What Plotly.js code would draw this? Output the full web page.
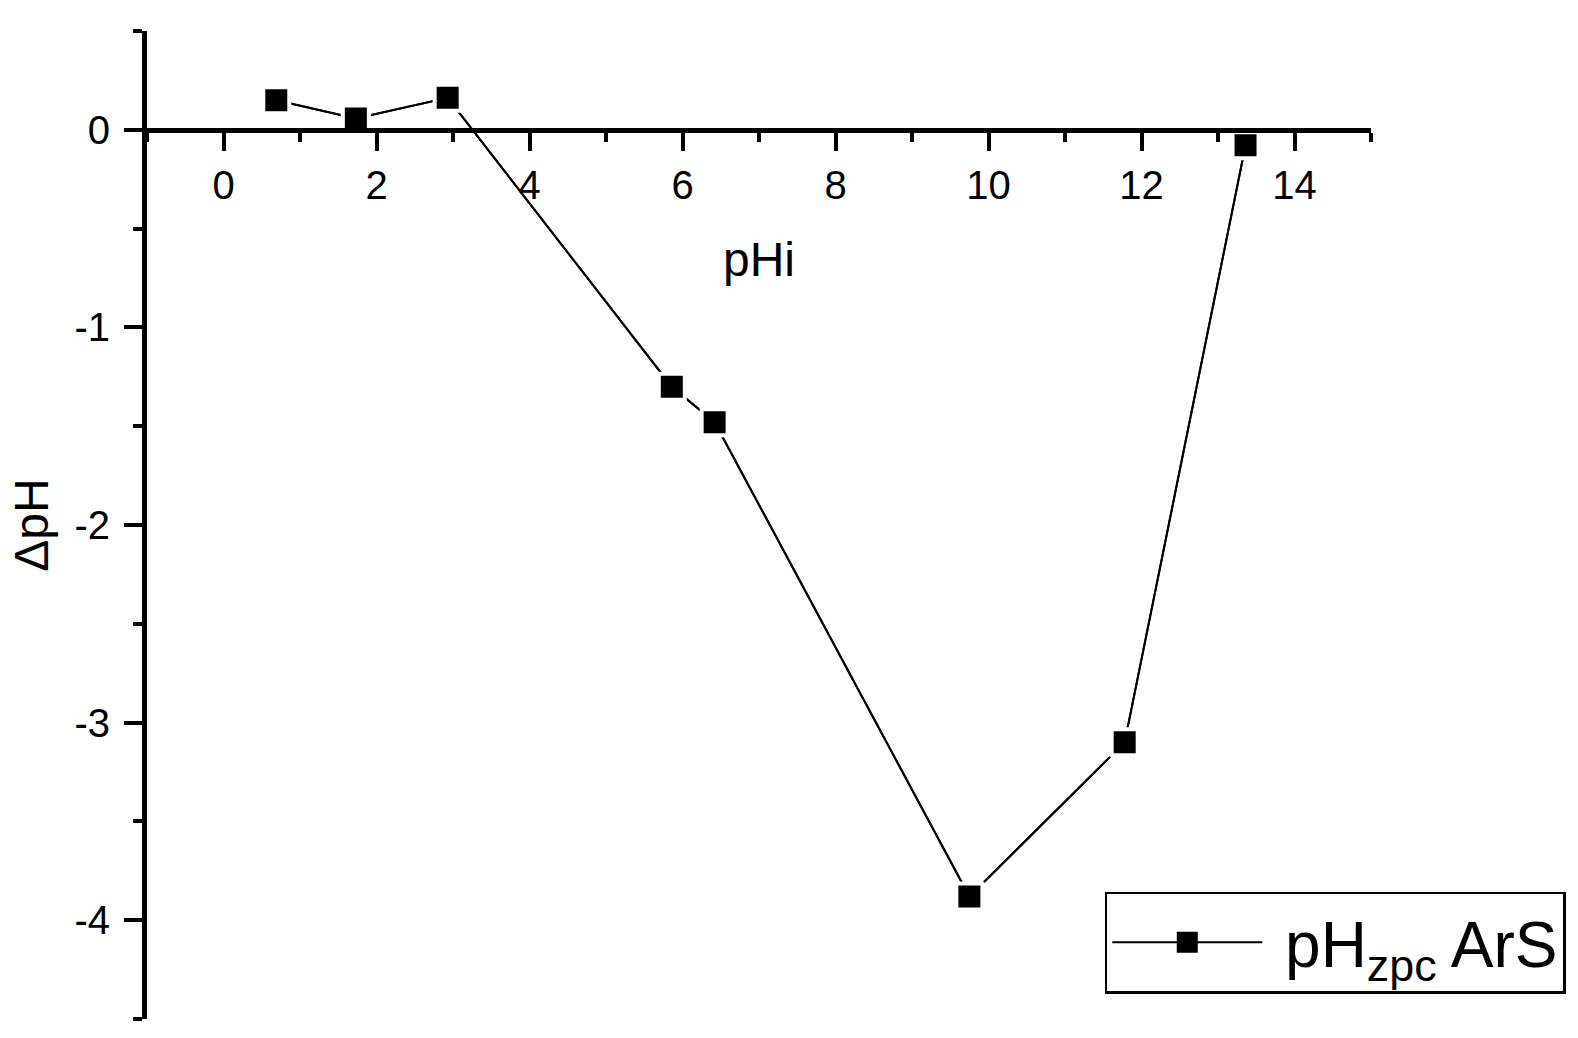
<!DOCTYPE html>
<html>
<head>
<meta charset="utf-8">
<script src="https://cdn.plot.ly/plotly-3.0.1.min.js"></script>
<style>
  html, body { margin: 0; padding: 0; background: #fff; }
  #chart { width: 1578px; height: 1038px; }
</style>
</head>
<body>
<div id="chart"></div>
<script>
// initial pH vs delta pH (pH drift method)
const phInitial = [0.69, 1.73, 2.93, 5.86, 6.42, 9.75, 11.78, 13.36];
const deltaPh = [0.15, 0.057, 0.162, -1.30, -1.48, -3.88, -3.10, -0.078];
const xTicks = [0, 2, 4, 6, 8, 10, 12, 14];
const yTicks = [-4, -3, -2, -1, 0];
const seriesName = "\u00A0pH<sub>zpc</sub> ArS";

const font = "Liberation Sans, Arial, sans-serif";

// legend entry + base layer (legend caps marker size, so the black outline pads it out)
const base = {
  type: "scatter",
  mode: "lines+markers",
  name: seriesName,
  x: phInitial,
  y: deltaPh,
  line: { color: "#000", width: 2 },
  marker: { symbol: "square", size: 17, color: "#000", line: { color: "#000", width: 5 } },
  cliponaxis: false,
};

// drawn on top: white ring leaves the small gap between line and marker
const gapped = {
  type: "scatter",
  mode: "lines+markers",
  name: seriesName,
  showlegend: false,
  x: phInitial,
  y: deltaPh,
  line: { color: "#000", width: 2 },
  marker: { symbol: "square", size: 26, color: "#000", line: { color: "#fff", width: 4 } },
  cliponaxis: false,
};

const layout = {
  width: 1578,
  height: 1038,
  paper_bgcolor: "#fff",
  plot_bgcolor: "#fff",
  margin: { l: 147, r: 205, t: 31, b: 19, pad: 0 },
  font: { family: font, color: "#000" },
  showlegend: true,
  legend: {
    x: 0.7825,
    y: 0.129,
    xanchor: "left",
    yanchor: "top",
    bgcolor: "#fff",
    bordercolor: "#000",
    borderwidth: 2.5,
    itemwidth: 150,
    font: { family: font, size: 64, color: "#000" },
  },
  xaxis: {
    range: [-1, 15],
    anchor: "free",
    position: 0.9, // x axis crosses at dpH = 0
    layer: "above traces",
    showline: true,
    linecolor: "#000",
    linewidth: 5,
    showgrid: false,
    zeroline: false,
    tickmode: "array",
    tickvals: xTicks,
    ticktext: xTicks.map(String),
    ticks: "outside",
    ticklen: 18,
    tickwidth: 4,
    tickcolor: "#000",
    tickfont: { family: font, size: 40 },
    minor: { dtick: 1, tick0: 0, ticks: "outside", ticklen: 9, tickwidth: 4, tickcolor: "#000", showgrid: false },
    title: { text: "pHi", font: { family: font, size: 48 }, standoff: 36 },
    automargin: false,
  },
  yaxis: {
    range: [-4.5, 0.5],
    showline: true,
    linecolor: "#000",
    linewidth: 5,
    showgrid: false,
    zeroline: false,
    tickmode: "array",
    tickvals: yTicks,
    ticktext: yTicks.map(String),
    ticks: "outside",
    ticklen: 18,
    tickwidth: 4,
    tickcolor: "#000",
    tickfont: { family: font, size: 40 },
    ticklabelstandoff: 6,
    minor: { dtick: 0.5, tick0: 0, ticks: "outside", ticklen: 9, tickwidth: 4, tickcolor: "#000", showgrid: false },
    title: { text: "ΔpH", font: { family: font, size: 48 }, standoff: 12 },
    automargin: false,
  },
};

Plotly.newPlot("chart", [base, gapped], layout, { staticPlot: true, displayModeBar: false });
</script>
</body>
</html>
